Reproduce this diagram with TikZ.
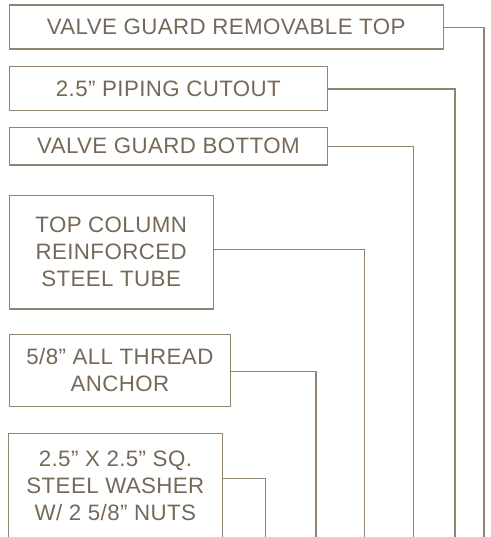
\documentclass[tikz,border=0pt]{standalone}
\usepackage{fontspec}
\setmainfont{Liberation Sans}[LetterSpace=1.8]
\definecolor{txtc}{RGB}{118,104,88}
\definecolor{linec}{RGB}{145,130,114}
\tikzset{
  labelbox/.style={draw=linec, line width=1.3pt, anchor=north west, align=center,
    text=txtc, inner sep=0pt, font=\fontsize{22.3}{27}\selectfont},
  leader/.style={draw=linec, line width=1.2pt}
}
\begin{document}
\begin{tikzpicture}[x=1pt,y=-1pt]
\useasboundingbox (0,0) rectangle (490,537);
\clip (0,0) rectangle (490,537);
\node[labelbox, minimum width=434pt, minimum height=43.8pt] (b1) at (8.5,4.5) {VALVE GUARD REMOVABLE TOP};
\node[labelbox, minimum width=318.5pt, minimum height=44.3pt] (b2) at (8.5,65.7) {2.5” PIPING CUTOUT};
\node[labelbox, minimum width=318.5pt, minimum height=37.6pt] (b3) at (8.5,126.7) {VALVE GUARD BOTTOM};
\node[labelbox, minimum width=204pt, minimum height=113.3pt] (b4) at (8.5,195) {TOP COLUMN\\REINFORCED\\STEEL TUBE};
\node[labelbox, minimum width=221.5pt, minimum height=71.7pt] (b5) at (8.5,334) {5/8” ALL THREAD\\ANCHOR};
\node[labelbox, draw=none, minimum width=212.5pt, minimum height=102.6pt] (b6) at (8.5,433.7) {2.5” X 2.5” SQ.\\STEEL WASHER\\W/ 2 5/8” NUTS};
\draw[leader, line width=1.3pt] (b6.north west) rectangle ([yshift=-12pt]b6.south east);
\coordinate (e1) at (484,545);
\coordinate (e2) at (455,545);
\coordinate (e3) at (413.3,545);
\coordinate (e4) at (364.3,545);
\coordinate (e5) at (316,545);
\coordinate (e6) at (265.7,545);
\draw[leader] ([yshift=-0.8pt]b1.east) -| (e1);
\draw[leader] ([yshift=-0.5pt]b2.east) -| (e2);
\draw[leader] (b3.east) -| (e3);
\draw[leader] ([yshift=2.7pt]b4.east) -| (e4);
\draw[leader] ([yshift=-1.2pt]b5.east) -| (e5);
\draw[leader] ([yshift=7pt]b6.east) -| (e6);
\end{tikzpicture}
\end{document}
